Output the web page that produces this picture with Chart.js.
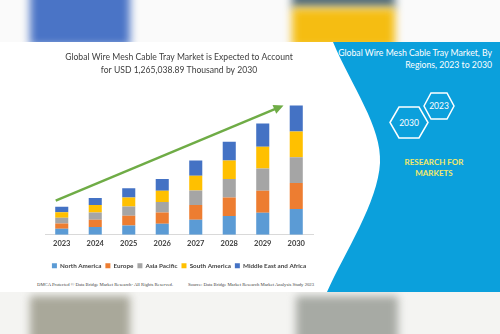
<!DOCTYPE html>
<html>
<head>
<meta charset="utf-8">
<script src="https://cdn.jsdelivr.net/npm/chart.js@4"></script>
<style>
  html, body { margin: 0; padding: 0; }
  body { width: 500px; height: 334px; position: relative; overflow: hidden; background: #fff; font-family: Lato, sans-serif; }
  .band { position: absolute; left: 0; width: 500px; height: 42px; overflow: hidden; background: #fafafa; }
  .band div { position: absolute; filter: blur(4px); }
  #top { top: 0; }
  #bottom { top: 292px; background: #f4f4f2; }
  #panel { position: absolute; left: 0; top: 42px; }
  #chartBox { position: absolute; left: 30px; top: 42px; width: 290px; height: 242px; }
  .foot { position: absolute; top: 282px; font-family: "Liberation Serif", serif; font-size: 4.7px; color: #444; white-space: nowrap; }
</style>
</head>
<body>
<div class="band" id="top">
  <div style="left:30px;top:-10px;width:100px;height:56px;background:#4a74c6"></div>
  <div style="left:292px;top:-10px;width:103px;height:18px;background:#566f7c"></div>
  <div style="left:292px;top:8px;width:103px;height:40px;background:#f5bd12"></div>
</div>
<svg id="panel" width="500" height="250">
  <path d="M333 0 C 352 45, 382 85, 380 121 C 378 160, 345 210, 327 250 L 500 250 L 500 0 Z" fill="#0ba0dc"/>
  <text x="492" y="14" fill="#fff" font-size="8.7" text-anchor="end" font-family="Lato">Global Wire Mesh Cable Tray Market, By</text>
  <text x="492" y="26" fill="#fff" font-size="8.7" text-anchor="end" font-family="Lato">Regions, 2023 to 2030</text>
  <polygon points="424,64 431,51 447,51 454,64 447,77 431,77" fill="none" stroke="#fff" stroke-width="1.5"/>
  <polygon points="390,80.5 399,65 419,65 428,80.5 419,96 399,96" fill="none" stroke="#fff" stroke-width="1.5"/>
  <text x="439" y="67" fill="#fff" font-size="8.5" text-anchor="middle" font-family="Lato">2023</text>
  <text x="409" y="84" fill="#fff" font-size="8.5" text-anchor="middle" font-family="Lato">2030</text>
  <text x="434" y="123" fill="#f3ea6c" font-size="8" font-weight="bold" text-anchor="middle" font-family="Lato">RESEARCH FOR</text>
  <text x="434" y="134" fill="#f3ea6c" font-size="8" font-weight="bold" text-anchor="middle" font-family="Lato">MARKETS</text>
</svg>
<div class="band" id="bottom">
  <div style="left:30px;top:4px;width:100px;height:50px;background:#a9a89a"></div>
  <div style="left:296px;top:4px;width:102px;height:50px;background:#a7aaa4"></div>
</div>
<div class="foot" style="left:37px">DMCA Protected © Data Bridge Market Research- All Rights Reserved.</div>
<div class="foot" style="left:188px">Source: Data Bridge Market Research Market Analysis Study 2023</div>
<div id="chartBox"><canvas id="market"></canvas></div>
<script>
// values in USD million (approx, read from bar segments)
const years = ['2023', '2024', '2025', '2026', '2027', '2028', '2029', '2030'];
const northAmerica = [58, 75, 91, 107, 146, 182, 214, 253];
const europe = [52, 71, 94, 110, 146, 182, 217, 253];
const asiaPacific = [55, 71, 91, 104, 140, 182, 217, 253];
const southAmerica = [55, 75, 88, 110, 146, 182, 214, 253];
const middleEast = [55, 68, 91, 114, 149, 182, 227, 253];
// trend arrow: from (category index, value) to (category index, value)
const arrowFrom = [-0.18, 334];
const arrowTo = [6.62, 1265];

const market = document.getElementById('market');

const arrowPlugin = {
    id: 'trendArrow',
    afterDatasetsDraw(chart) {
        const ctx = chart.ctx;
        const x = chart.scales.x, y = chart.scales.y;
        const x1 = x.getPixelForValue(arrowFrom[0]), y1 = y.getPixelForValue(arrowFrom[1]);
        const x2 = x.getPixelForValue(arrowTo[0]), y2 = y.getPixelForValue(arrowTo[1]);
        const ang = Math.atan2(y2 - y1, x2 - x1);
        const head = 11;
        ctx.save();
        ctx.strokeStyle = '#6fac46';
        ctx.fillStyle = '#6fac46';
        ctx.lineWidth = 2.5;
        ctx.beginPath();
        ctx.moveTo(x1, y1);
        ctx.lineTo(x2 - head * 0.8 * Math.cos(ang), y2 - head * 0.8 * Math.sin(ang));
        ctx.stroke();
        ctx.beginPath();
        ctx.moveTo(x2, y2);
        ctx.lineTo(x2 - head * Math.cos(ang - 0.45), y2 - head * Math.sin(ang - 0.45));
        ctx.lineTo(x2 - head * Math.cos(ang + 0.45), y2 - head * Math.sin(ang + 0.45));
        ctx.closePath();
        ctx.fill();
        ctx.restore();
    }
};

new Chart(market, {
    type: 'bar',
    data: {
        labels: years,
        datasets: [
            { label: 'North America', data: northAmerica, backgroundColor: '#5b9bd5' },
            { label: 'Europe', data: europe, backgroundColor: '#ed7d31' },
            { label: 'Asia Pacific', data: asiaPacific, backgroundColor: '#a5a5a5' },
            { label: 'South America', data: southAmerica, backgroundColor: '#ffc000' },
            { label: 'Middle East and Africa', data: middleEast, backgroundColor: '#4472c4' }
        ]
    },
    options: {
        responsive: true,
        maintainAspectRatio: false,
        animation: false,
        barPercentage: 0.39,
        categoryPercentage: 1,
        layout: { padding: { left: 15, right: 7, bottom: 5 } },
        scales: {
            x: {
                stacked: true,
                grid: { display: false, drawTicks: false },
                border: { color: '#d9d9d9' },
                ticks: { color: '#404040', font: { family: 'Lato', size: 7.5, weight: 'bold' }, padding: 4 },
                afterFit(scale) { scale.height += 7; }
            },
            y: {
                stacked: true,
                display: false,
                min: 0,
                max: 1400
            }
        },
        plugins: {
            title: {
                display: true,
                text: ['Global Wire Mesh Cable Tray Market is Expected to Account', 'for USD 1,265,038.89 Thousand by 2030'],
                color: '#404040',
                font: { family: 'Lato', size: 8.6, weight: 'normal', lineHeight: 1.5 },
                padding: { top: 9, bottom: 15 }
            },
            legend: {
                position: 'bottom',
                labels: {
                    boxWidth: 5,
                    boxHeight: 5,
                    padding: 4,
                    color: '#404040',
                    font: { family: 'Lato', size: 6.3, weight: 'bold' }
                }
            },
            tooltip: { enabled: false }
        }
    },
    plugins: [arrowPlugin]
});
</script>
</body>
</html>
